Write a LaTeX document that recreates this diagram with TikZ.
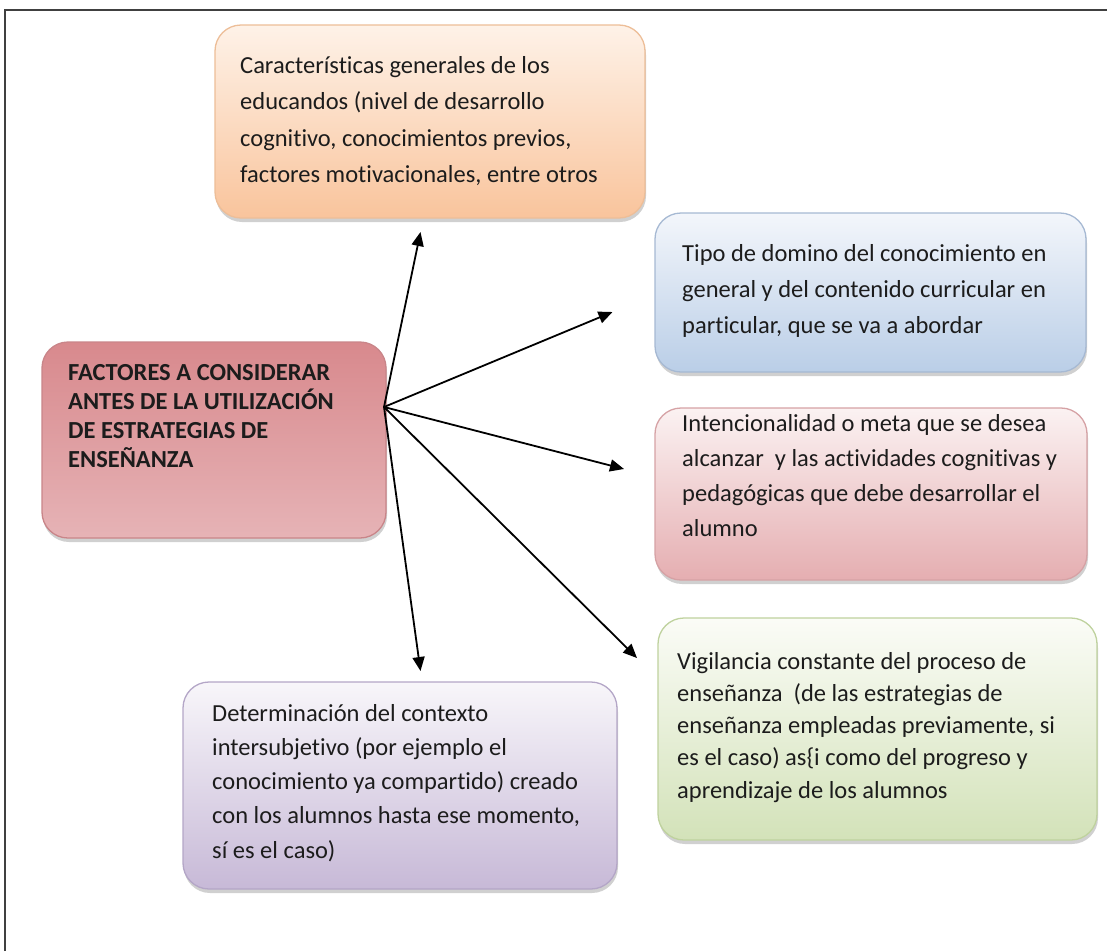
\documentclass[tikz,border=0pt]{standalone}
\usepackage{fontspec}
\setmainfont{Carlito}[Ligatures=NoCommon]
\usetikzlibrary{arrows.meta,shadows}
\definecolor{txtc}{HTML}{1C1C1C}
\definecolor{orT}{HTML}{FEF2E8}\definecolor{orB}{HTML}{F9C49C}\definecolor{orD}{HTML}{EDBE98}
\definecolor{blT}{HTML}{F3F6FB}\definecolor{blB}{HTML}{BACEE7}\definecolor{blD}{HTML}{A6B9D3}
\definecolor{ceT}{HTML}{D8898D}\definecolor{ceM}{HTML}{F2D6D8}\definecolor{ceB}{HTML}{E6B3B6}\definecolor{ceD}{HTML}{C98589}
\definecolor{pkT}{HTML}{FBF2F2}\definecolor{pkB}{HTML}{E5AEB1}\definecolor{pkD}{HTML}{D6A2A5}
\definecolor{grT}{HTML}{FBFCF7}\definecolor{grB}{HTML}{D3E2B9}\definecolor{grD}{HTML}{BFD29E}
\definecolor{puT}{HTML}{F8F6FA}\definecolor{puB}{HTML}{C7B9D7}\definecolor{puD}{HTML}{B4A6C7}
\tikzset{
  card/.style={rounded corners=26pt, line width=1.3pt, inner sep=0pt,
    drop shadow={shadow xshift=1pt, shadow yshift=-4pt, opacity=0.30, fill=black!60}},
  lbl/.style={anchor=base west, inner sep=0pt, text=txtc},
  arr/.style={line width=1.8pt, -{Triangle[length=14pt,width=12pt]}},
}
\newcommand{\cardtext}[3]{\parbox[t]{#1}{\raggedright\fontsize{24.5}{#2}\selectfont #3}}
\begin{document}
\begin{tikzpicture}[x=1pt,y=-1pt]
\useasboundingbox (0,0) rectangle (1107,951);
\fill[white] (0,0) rectangle (1107,951);
\draw[line width=2pt, black!75] (5,951) -- (5,10) -- (1107,10);

% boxes
\node[card, draw=orD, top color=orT, bottom color=orB, minimum width=430pt, minimum height=193pt] (orange) at (430,121.5) {};
\node[card, draw=blD, top color=blT, bottom color=blB, minimum width=431pt, minimum height=159pt] (blue) at (870.5,292.5) {};
\node[card, draw=ceD, top color=ceT, middle color=ceM, bottom color=ceB, minimum width=344pt, minimum height=196pt] (central) at (214,440) {};
\node[card, draw=pkD, top color=pkT, bottom color=pkB, minimum width=432pt, minimum height=172pt] (pink) at (871,494) {};
\node[card, draw=grD, top color=grT, bottom color=grB, minimum width=439pt, minimum height=222pt] (green) at (877.5,729) {};
\node[card, draw=puD, top color=puT, bottom color=puB, minimum width=434pt, minimum height=207pt] (purple) at (400,785.5) {};

% texts
\node[lbl] (orangetext) at (240,73) {\cardtext{400pt}{36.5pt}{Características generales de los\\educandos (nivel de desarrollo\\cognitivo, conocimientos previos,\\factores motivacionales, entre otros}};
\node[lbl] (bluetext) at (682,261) {\cardtext{400pt}{36pt}{Tipo de domino del conocimiento en\\general y del contenido curricular en\\particular, que se va a abordar}};
\node[lbl] (centraltext) at (68,380) {\cardtext{320pt}{29pt}{\bfseries FACTORES A CONSIDERAR\\ANTES DE LA UTILIZACIÓN\\DE ESTRATEGIAS DE\\ENSEÑANZA}};
\node[lbl] (pinktext) at (682,431) {\cardtext{400pt}{35pt}{Intencionalidad o meta que se desea\\alcanzar \ y las actividades cognitivas y\\pedagógicas que debe desarrollar el\\alumno}};
\node[lbl] (greentext) at (677,669) {\cardtext{410pt}{32.3pt}{Vigilancia constante del proceso de\\enseñanza \ (de las estrategias de\\enseñanza empleadas previamente, si\\es el caso) as\{i como del progreso y\\aprendizaje de los alumnos}};
\node[lbl] (purpletext) at (212,721) {\cardtext{400pt}{34.3pt}{Determinación del contexto\\intersubjetivo (por ejemplo el\\conocimiento ya compartido) creado\\con los alumnos hasta ese momento,\\sí es el caso)}};

% connectors
\coordinate (hub) at (384,407);
\coordinate (tipA) at (420.5,232);
\coordinate (tipB) at (612.5,312);
\coordinate (tipC) at (624,469);
\coordinate (tipD) at (637,658);
\coordinate (tipE) at (420.5,671);
\draw[arr] (hub) -- (tipA);
\draw[arr] (hub) -- (tipB);
\draw[arr] (hub) -- (tipC);
\draw[arr] (hub) -- (tipD);
\draw[arr] (hub) -- (tipE);
\end{tikzpicture}
\end{document}
